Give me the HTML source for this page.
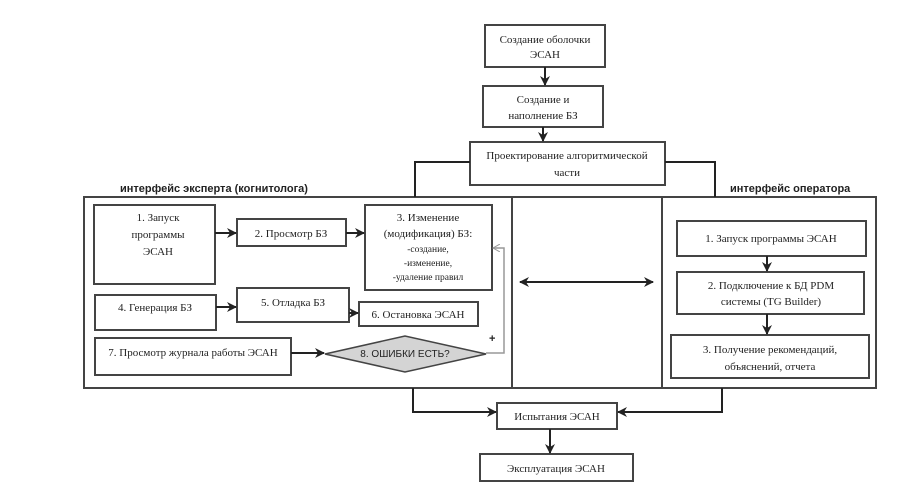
<!DOCTYPE html>
<html><head><meta charset="utf-8"><style>
html,body{margin:0;padding:0;background:#fff;}
svg{display:block;}
text{font-family:"Liberation Serif","DejaVu Serif",serif;font-size:11px;fill:#222;}
.b{font-family:"Liberation Sans","DejaVu Sans",sans-serif;font-weight:bold;font-size:11px;}
</style></head><body>
<svg width="921" height="504" viewBox="0 0 921 504" xmlns="http://www.w3.org/2000/svg">
<defs>
<marker id="a" markerWidth="10" markerHeight="10" refX="9" refY="5" orient="auto" markerUnits="userSpaceOnUse"><path d="M0,0 L10,5 L0,10 L3,5 z" fill="#222"/></marker>
<marker id="g" markerWidth="8" markerHeight="8" refX="7" refY="4" orient="auto" markerUnits="userSpaceOnUse"><path d="M0,0 L7,4 L0,8" fill="none" stroke="#999" stroke-width="1"/></marker>
<marker id="s" markerWidth="10" markerHeight="10" refX="1" refY="5" orient="auto" markerUnits="userSpaceOnUse"><path d="M10,0 L0,5 L10,10 L7,5 z" fill="#222"/></marker>
</defs>
<g fill="none" stroke="#444" stroke-width="2">
<rect x="485" y="25" width="120" height="42"/>
<rect x="483" y="86" width="120" height="41"/>
<rect x="470" y="142" width="195" height="43"/>
<rect x="84" y="197" width="792" height="191"/>
<line x1="512" y1="197" x2="512" y2="388"/>
<line x1="662" y1="197" x2="662" y2="388"/>
<rect x="94" y="205" width="121" height="79"/>
<rect x="237" y="219" width="109" height="27"/>
<rect x="365" y="205" width="127" height="85"/>
<rect x="95" y="295" width="121" height="35"/>
<rect x="237" y="288" width="112" height="34"/>
<rect x="359" y="302" width="119" height="24"/>
<rect x="95" y="338" width="196" height="37"/>
<rect x="677" y="221" width="189" height="35"/>
<rect x="677" y="272" width="187" height="42"/>
<rect x="671" y="335" width="198" height="43"/>
<rect x="497" y="403" width="120" height="26"/>
<rect x="480" y="454" width="153" height="27"/>
</g>
<polygon points="325,354 405,336 486,354 405,372" fill="#d4d4d4" stroke="#444" stroke-width="1.5"/>
<g fill="none" stroke="#222" stroke-width="2">
<line x1="545" y1="67" x2="545" y2="85" marker-end="url(#a)"/>
<line x1="543" y1="127" x2="543" y2="141" marker-end="url(#a)"/>
<polyline points="470,162 415,162 415,197"/>
<polyline points="665,162 715,162 715,197"/>
<line x1="215" y1="233" x2="236" y2="233" marker-end="url(#a)"/>
<line x1="346" y1="233" x2="364" y2="233" marker-end="url(#a)"/>
<line x1="216" y1="307" x2="236" y2="307" marker-end="url(#a)"/>
<line x1="349" y1="313" x2="358" y2="313" marker-end="url(#a)"/>
<line x1="291" y1="353" x2="324" y2="353" marker-end="url(#a)"/>
<line x1="520" y1="282" x2="653" y2="282" marker-start="url(#s)" marker-end="url(#a)"/>
<line x1="767" y1="256" x2="767" y2="271" marker-end="url(#a)"/>
<line x1="767" y1="314" x2="767" y2="334" marker-end="url(#a)"/>
<polyline points="413,388 413,412 496,412" marker-end="url(#a)"/>
<polyline points="722,388 722,412 618,412" marker-end="url(#a)"/>
<line x1="550" y1="429" x2="550" y2="453" marker-end="url(#a)"/>
</g>
<polyline points="486,353 504,353 504,248 493,248" fill="none" stroke="#999" stroke-width="1.5" marker-end="url(#g)"/>
<text x="489" y="342" class="b">+</text>
<text class="b" x="120" y="192">интерфейс  эксперта  (когнитолога)</text>
<text class="b" x="730" y="192">интерфейс оператора</text>
<g text-anchor="middle">
<text x="545" y="43">Создание оболочки</text><text x="545" y="58">ЭСАН</text>
<text x="543" y="103">Создание и</text><text x="543" y="119">наполнение БЗ</text>
<text x="567" y="159">Проектирование  алгоритмической</text><text x="567" y="176">части</text>
<text x="158" y="221">1.    Запуск</text><text x="158" y="238">программы</text><text x="158" y="255">ЭСАН</text>
<text x="291" y="237">2. Просмотр БЗ</text>
<text x="428" y="221">3. Изменение</text><text x="428" y="237">(модификация) БЗ:</text>
<text x="428" y="252" style="font-size:9.5px">-создание,</text><text x="428" y="266" style="font-size:9.5px">-изменение,</text><text x="428" y="280" style="font-size:9.5px">-удаление правил</text>
<text x="155" y="311">4. Генерация  БЗ</text>
<text x="293" y="306">5. Отладка БЗ</text>
<text x="418" y="318">6. Остановка ЭСАН</text>
<text x="193" y="356">7. Просмотр журнала работы  ЭСАН</text>
<text x="405" y="357" style="font-family:'Liberation Sans',sans-serif;font-size:10px">8. ОШИБКИ ЕСТЬ?</text>
<text x="771" y="242">1. Запуск  программы ЭСАН</text>
<text x="771" y="289">2. Подключение к БД PDM</text><text x="771" y="305">системы (TG Builder)</text>
<text x="770" y="353">3. Получение рекомендаций,</text><text x="770" y="370">объяснений, отчета</text>
<text x="557" y="420">Испытания ЭСАН</text>
<text x="556" y="472">Эксплуатация ЭСАН</text>
</g>
</svg>
</body></html>
